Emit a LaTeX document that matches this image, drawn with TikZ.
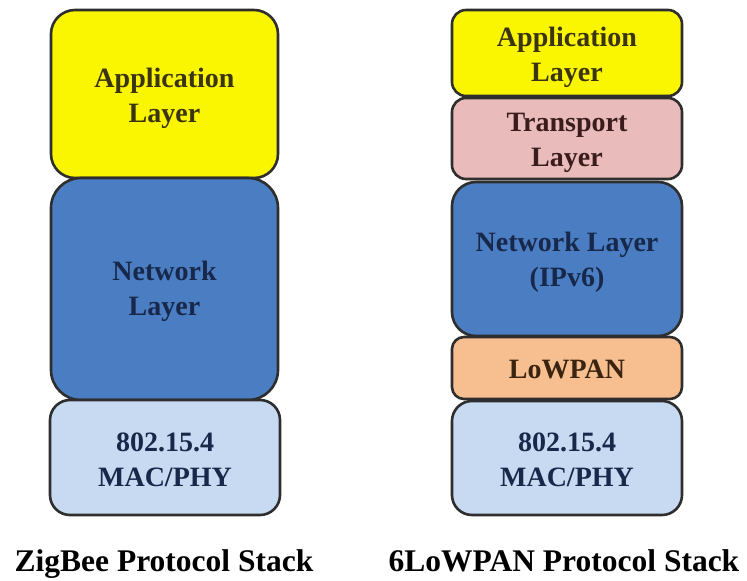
\documentclass[tikz,border=0pt]{standalone}
\usepackage{fontspec}
\setmainfont{Liberation Serif}
\definecolor{appy}{HTML}{FAF500}
\definecolor{netb}{HTML}{4A7DC2}
\definecolor{trp}{HTML}{E9BBBB}
\definecolor{lowo}{HTML}{F7BF90}
\definecolor{macb}{HTML}{C7DAF2}
\definecolor{edge}{HTML}{2E2E2E}
\definecolor{tnavy}{HTML}{17284A}
\definecolor{tolive}{HTML}{3A3410}
\definecolor{tmaroon}{HTML}{3A1C1C}
\definecolor{tbrown}{HTML}{3A2410}
\begin{document}
\begin{tikzpicture}[x=1pt,y=-1pt,
  layer/.style={draw=edge, line width=2.6pt, inner sep=0pt},
  ltext/.style={align=center, inner sep=0pt, font=\fontsize{28}{35}\selectfont\bfseries},
  stacklabel/.style={font=\fontsize{31.5}{36}\selectfont\bfseries, text=black, inner sep=0pt, anchor=base}]
\useasboundingbox (0,0) rectangle (747,581);
\fill[white] (0,0) rectangle (747,581);
% left stack
\node[layer, fill=appy, rounded corners=24pt, minimum width=227pt, minimum height=168pt] (lapp) at (164.5,94) {};
\node[layer, fill=netb, rounded corners=30pt, minimum width=227pt, minimum height=222pt] (lnet) at (164.5,289) {};
\node[layer, fill=macb, rounded corners=20pt, minimum width=230pt, minimum height=115pt] (lmac) at (165,457.5) {};
\node[ltext, text=tolive] (lappt) at ([yshift=-4pt]lapp.center) {Application\\Layer};
\node[ltext, text=tnavy] (lnett) at ([yshift=-2pt]lnet.center) {Network\\Layer};
\node[ltext, text=tnavy] (lmact) at ([yshift=-2pt]lmac.center) {802.15.4\\MAC/PHY};
% right stack
\node[layer, fill=appy, rounded corners=14pt, minimum width=230pt, minimum height=86pt] (rapp) at (567,53) {};
\node[layer, fill=trp, rounded corners=14pt, minimum width=230pt, minimum height=81pt] (rtrp) at (567,138.5) {};
\node[layer, fill=netb, rounded corners=24pt, minimum width=230pt, minimum height=154pt] (rnet) at (567,259) {};
\node[layer, fill=lowo, rounded corners=12pt, minimum width=230pt, minimum height=62pt] (rlow) at (567,368) {};
\node[layer, fill=macb, rounded corners=20pt, minimum width=230pt, minimum height=114pt] (rmac) at (567,458) {};
\node[ltext, text=tolive] (rappt) at ([yshift=-4pt]rapp.center) {Application\\Layer};
\node[ltext, text=tmaroon] (rtrpt) at ([yshift=-4pt]rtrp.center) {Transport\\Layer};
\node[ltext, text=tnavy] (rnett) at ([yshift=-3pt]rnet.center) {Network Layer\\(IPv6)};
\node[ltext, text=tbrown] (rlowt) at ([yshift=-1pt]rlow.center) {LoWPAN};
\node[ltext, text=tnavy] (rmact) at ([yshift=-2pt]rmac.center) {802.15.4\\MAC/PHY};
% captions
\node[stacklabel] (lcap) at (164,571) {ZigBee Protocol Stack};
\node[stacklabel] (rcap) at (564,571) {6LoWPAN Protocol Stack};
\end{tikzpicture}
\end{document}
